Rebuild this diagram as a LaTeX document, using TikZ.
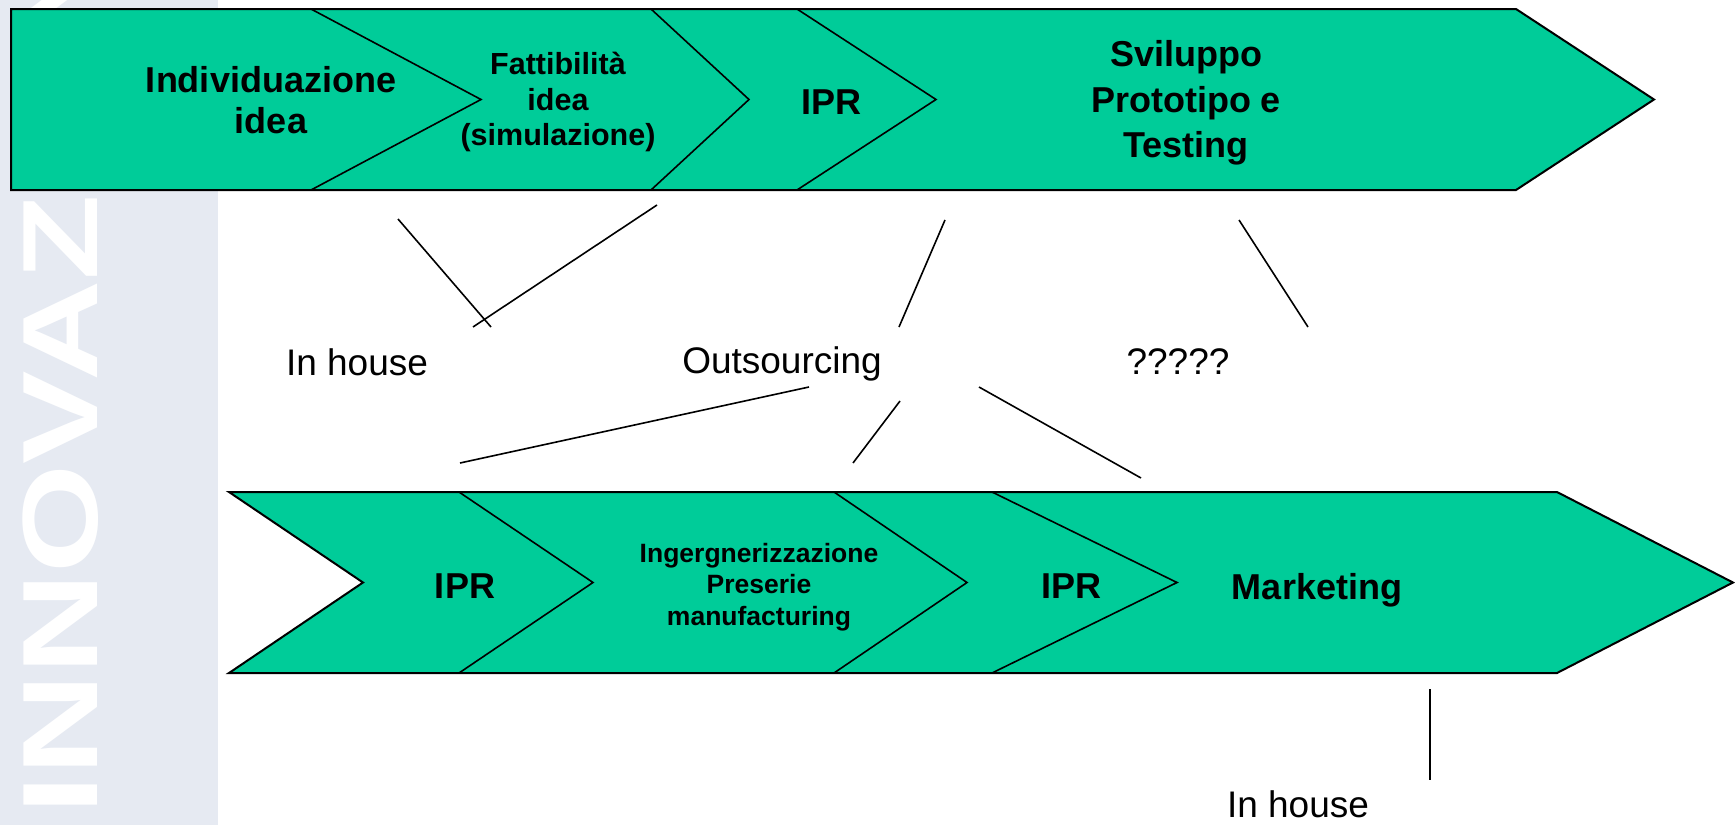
\documentclass[tikz,border=0pt]{standalone}
\usepackage{graphicx}
\usepackage{fontspec}
\setmainfont{Liberation Sans}
\definecolor{bandgreen}{RGB}{0,204,153}
\definecolor{wmark}{RGB}{230,234,242}
\tikzset{
  band/.style={fill=bandgreen, draw=black, line width=2pt, line join=miter},
  sep/.style={draw=black, line width=1.6pt},
  big/.style={font=\bfseries\fontsize{36}{41}\selectfont, align=center, inner sep=0pt},
  tall/.style={font=\bfseries\fontsize{36}{45.5}\selectfont, align=center, inner sep=0pt},
  mid/.style={font=\bfseries\fontsize{30.5}{35.5}\selectfont, align=center, inner sep=0pt},
  small/.style={font=\bfseries\fontsize{26.5}{31.5}\selectfont, align=center, inner sep=0pt},
  plain/.style={font=\fontsize{37}{42}\selectfont, inner sep=0pt},
  link/.style={draw=black, line width=1.6pt},
}
\begin{document}
\begin{tikzpicture}[x=1pt,y=-1pt]
\useasboundingbox (0,0) rectangle (1735,825);
% watermark band
\fill[wmark] (0,0) rectangle (218,825);
\begin{scope}
\clip (0,0) rectangle (218,825);
\node[rotate=90, anchor=base west, text=white, inner sep=0pt,
      font=\bfseries\fontsize{107}{107}\selectfont] (wm) at (97,815)
      {\scalebox{1.31}[1]{INNOVAZIONE}};
\end{scope}
% top band
\draw[band] (11,9) -- (1516,9) -- (1654,99.5) -- (1516,190) -- (11,190) -- cycle;
\draw[sep] (311,9) -- (481,99.5) -- (311,190);
\draw[sep] (651,9) -- (749,99.5) -- (651,190);
\draw[sep] (797,9) -- (936,99.5) -- (797,190);
% bottom band
\draw[band] (229,492) -- (1557,492) -- (1733,582.5) -- (1557,673) -- (229,673) -- (363,582.5) -- cycle;
\draw[sep] (459,492) -- (593,582.5) -- (459,673);
\draw[sep] (834,492) -- (967,582.5) -- (834,673);
\draw[sep] (992,492) -- (1177,582.5) -- (992,673);
% top texts
\node[big] (t1) at (271,100) {Individuazione\\idea};
\node[mid] (t2) at (558,102) {Fattibilità\\idea\\(simulazione)};
\node[big] (t3) at (831,102) {IPR};
\node[tall] (t4) at (1186,103) {Sviluppo\\Prototipo e\\Testing};
% middle texts
\node[plain] (inhouse) at (357,362) {In house};
\node[plain] (outs) at (782,364) {Outsourcing};
\node[plain] (qq) at (1178,362) {?????};
% bottom texts
\node[big] (b1) at (465,586) {IPR};
\node[small] (b2) at (759,587) {Ingergnerizzazione\\Preserie\\manufacturing};
\node[big] (b3) at (1071,586) {IPR};
\node[big] (b4) at (1317,590) {Marketing};
\node[plain] (inhouse2) at (1298,804) {In house};
% connector end points
\coordinate (l1a) at (398,219); \coordinate (l1b) at (491,327);
\coordinate (l2a) at (657,205); \coordinate (l2b) at (473,327);
\coordinate (l3a) at (945,220); \coordinate (l3b) at (899,327);
\coordinate (l4a) at (1239,220); \coordinate (l4b) at (1308,327);
\coordinate (l5a) at (809,387); \coordinate (l5b) at (460,463);
\coordinate (l6a) at (900,401); \coordinate (l6b) at (853,463);
\coordinate (l7a) at (979,387); \coordinate (l7b) at (1141,478);
\coordinate (l8a) at (1430,689); \coordinate (l8b) at (1430,780);
\draw[link] (l1a) -- (l1b);
\draw[link] (l2a) -- (l2b);
\draw[link] (l3a) -- (l3b);
\draw[link] (l4a) -- (l4b);
\draw[link] (l5a) -- (l5b);
\draw[link] (l6a) -- (l6b);
\draw[link] (l7a) -- (l7b);
\draw[link] (l8a) -- (l8b);
\end{tikzpicture}
\end{document}
